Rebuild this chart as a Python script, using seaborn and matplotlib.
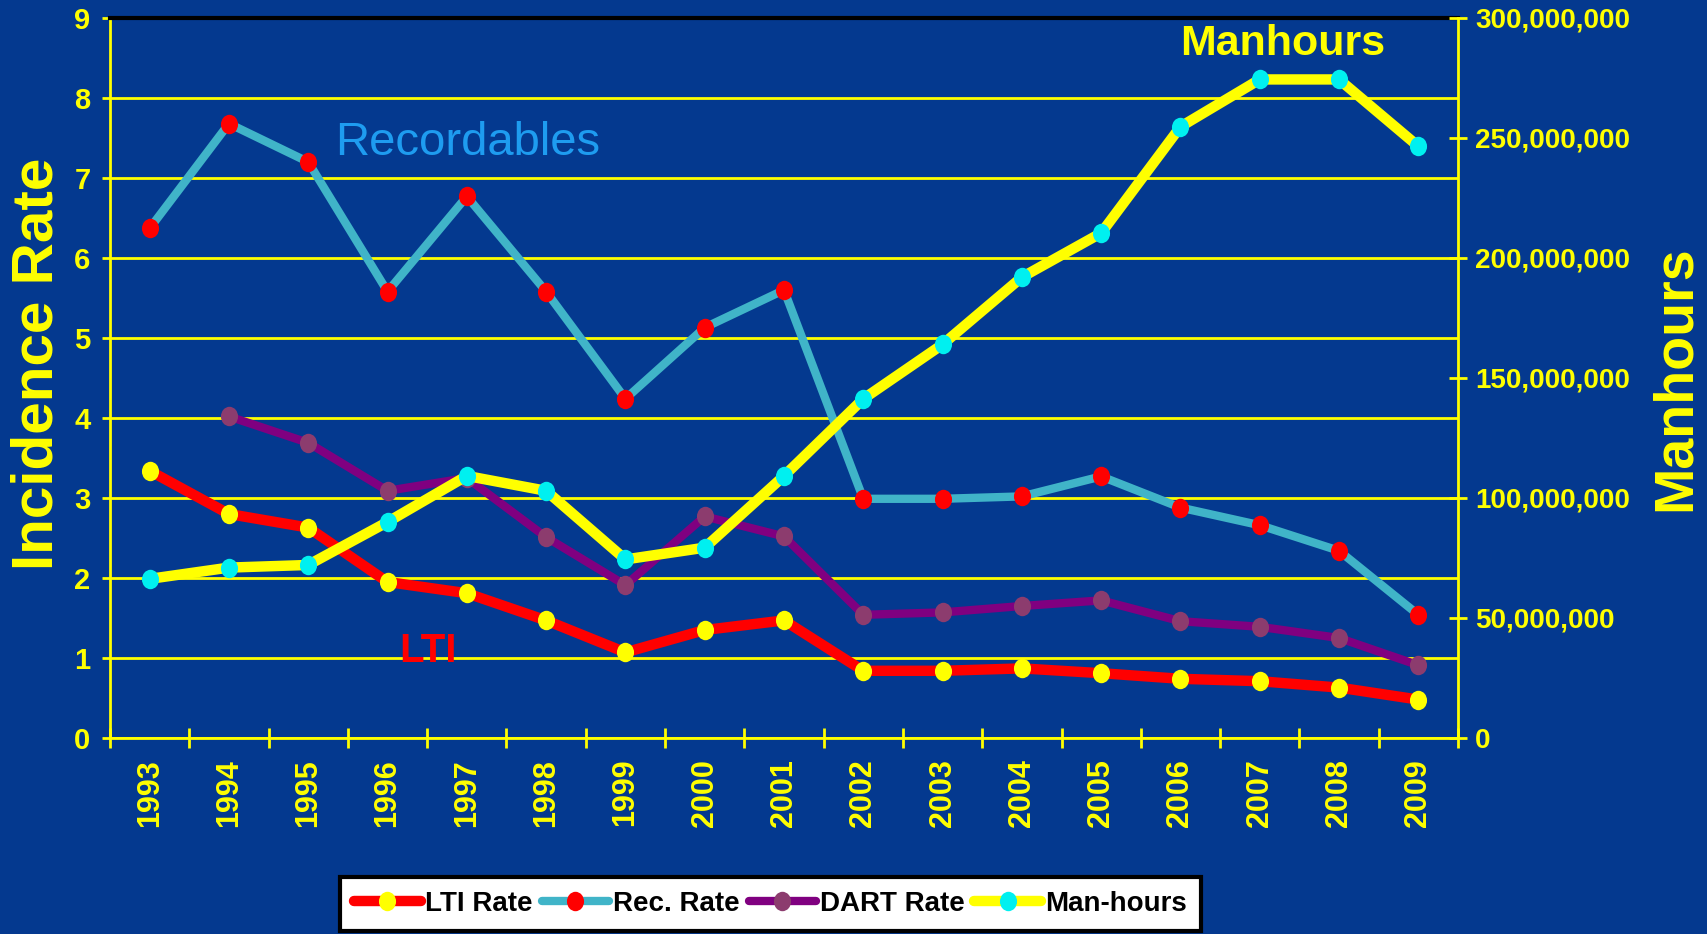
import numpy as np
import pandas as pd
import seaborn as sns
import matplotlib as mpl
import matplotlib.pyplot as plt
from matplotlib.path import Path
from matplotlib.ticker import FuncFormatter, FixedLocator, MultipleLocator
from matplotlib.font_manager import FontProperties

sns.set_theme(style="white")
mpl.rcParams["font.family"] = ["Liberation Sans", "DejaVu Sans"]

years = list(range(1993, 2010))
lti_rate = [3.34, 2.80, 2.63, 1.95, 1.81, 1.47, 1.07, 1.35, 1.47,
            0.84, 0.84, 0.87, 0.81, 0.74, 0.71, 0.63, 0.48]
rec_rate = [6.37, 7.68, 7.20, 5.58, 6.77, 5.58, 4.24, 5.13, 5.60,
            2.99, 2.99, 3.02, 3.27, 2.88, 2.66, 2.34, 1.54]
dart_rate = [np.nan, 4.02, 3.69, 3.09, 3.25, 2.51, 1.91, 2.77, 2.52,
             1.54, 1.57, 1.65, 1.72, 1.46, 1.39, 1.25, 0.91]
man_hours = [66.3e6, 71.0e6, 72.1e6, 90.0e6, 109.2e6, 103.0e6, 74.4e6, 79.3e6, 109.2e6,
             141.3e6, 164.0e6, 192.0e6, 210.4e6, 254.7e6, 274.4e6, 274.4e6, 246.5e6]

df = pd.DataFrame({"year": years, "lti": lti_rate, "rec": rec_rate,
                   "dart": dart_rate, "mh": man_hours})

BG = "#04398F"
YEL = "#FFFF00"

# slightly tall ellipse marker, like the original
circ = Path.unit_circle()
ell = Path(circ.vertices * [0.88, 1.0], circ.codes)

fig = plt.figure(figsize=(17.08, 9.34), dpi=100, facecolor=BG)
ax = fig.add_axes([110 / 1708, 1 - 738 / 934, 1348 / 1708, 720 / 934])
ax.set_facecolor(BG)

series = [
    ("rec", "Rec. Rate", "#40B4C8", "#FF0000", 6),
    ("dart", "DART Rate", "#800080", "#8C3C6E", 6),
    ("lti", "LTI Rate", "#FF0000", YEL, 7.5),
]
handles = {}
for col, lab, lc, mc, lw in series:
    sns.lineplot(data=df, x="year", y=col, ax=ax, color=lc, lw=lw,
                 marker=ell, ms=14, mew=0, markerfacecolor=mc,
                 label=lab, legend=False)
    ln = ax.lines[-1]
    ln.set_markerfacecolor(mc)
    ln.set_markeredgewidth(0)
    handles[lab] = ln

ax2 = ax.twinx()
sns.lineplot(data=df, x="year", y="mh", ax=ax2, color=YEL, lw=7.5,
             marker=ell, ms=14, mew=0, markerfacecolor="#00F0F0",
             label="Man-hours", legend=False)
ln = ax2.lines[-1]
ln.set_markerfacecolor("#00F0F0")
ln.set_markeredgewidth(0)
handles["Man-hours"] = ln

# left axis
ax.set_xlim(1992.5, 2009.5)
ax.set_ylim(0, 9)
ax.yaxis.set_major_locator(MultipleLocator(1))
ax.grid(axis="y", color=YEL, lw=2)
ax.grid(axis="x", visible=False)
ax.set_axisbelow(True)
for s in ["left", "bottom"]:
    ax.spines[s].set_color(YEL)
    ax.spines[s].set_linewidth(2)
ax.spines["top"].set_color("black")
ax.spines["top"].set_linewidth(3)
ax.spines["right"].set_visible(False)
ax.tick_params(axis="y", colors=YEL, direction="out", length=6, width=2, pad=8,
               left=True, labelsize=21)
for t in ax.get_yticklabels():
    t.set_fontweight("bold")

ax.xaxis.set_major_locator(FixedLocator(years))
ax.xaxis.set_minor_locator(FixedLocator([y - 0.5 for y in years] + [2009.5]))
ax.set_xticklabels([str(y) for y in years], rotation=90, fontsize=22,
                   fontweight="bold", color=YEL)
ax.tick_params(axis="x", which="major", length=0, pad=15, bottom=True)
ax.tick_params(axis="x", which="minor", direction="inout", length=14, width=2,
               color=YEL, bottom=True)

ax.set_xlabel("")
ax.set_ylabel("Incidence Rate", fontsize=42, fontweight="bold", color=YEL)
ax.yaxis.set_label_coords(-0.034, 0.52)

# right axis
ax2.set_ylim(0, 300e6)
ax2.yaxis.set_major_locator(MultipleLocator(50e6))
ax2.yaxis.set_major_formatter(FuncFormatter(lambda v, p: f"{v:,.0f}"))
ax2.grid(False)
for s in ["top", "left", "bottom"]:
    ax2.spines[s].set_visible(False)
ax2.spines["right"].set_color(YEL)
ax2.spines["right"].set_linewidth(2)
ax2.tick_params(axis="y", colors=YEL, direction="inout", length=13, width=2, pad=6,
                right=True, labelsize=20)
for t in ax2.get_yticklabels():
    t.set_fontweight("bold")
ax2.set_ylabel("Manhours", fontsize=40, fontweight="bold", color=YEL, rotation=90)
ax2.yaxis.set_label_coords(1.142, 0.50)
ax2.set_xlim(1992.5, 2009.5)

# in-plot captions
ax.text(1995.34, 7.44, "Recordables", fontsize=34, color="#1E9CF0",
        ha="left", va="center")
ax.text(1996.51, 1.09, "LTI", fontsize=29, color="#FF0000", fontweight="bold",
        ha="center", va="center")
ax.text(2007.29, 8.68, "Manhours", fontsize=31, color=YEL, fontweight="bold",
        ha="center", va="center")

order = ["LTI Rate", "Rec. Rate", "DART Rate", "Man-hours"]
leg = fig.legend([handles[k] for k in order], order, ncol=4,
                 loc="upper left", bbox_to_anchor=(340 / 1708, 1 - 877 / 934),
                 prop=FontProperties(weight="bold", size=20),
                 frameon=True, fancybox=False, framealpha=1, facecolor="white",
                 edgecolor="black", handlelength=2.4, handletextpad=0.15,
                 columnspacing=0.35, borderpad=0.5, borderaxespad=0)
leg.get_frame().set_linewidth(3)
for t in leg.get_texts():
    t.set_color("black")

fig.savefig("out.png", dpi=100, facecolor=BG)
